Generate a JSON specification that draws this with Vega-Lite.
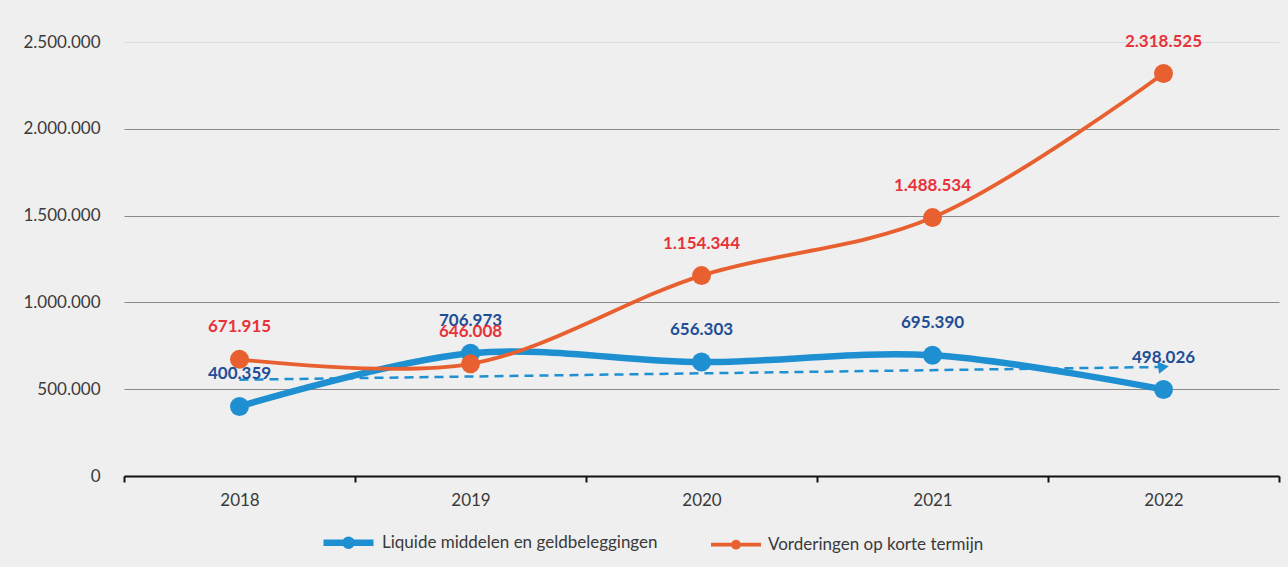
{
  "$schema": "https://vega.github.io/schema/vega-lite/v6.json",
  "width": 1155,
  "height": 434,
  "autosize": {"type": "none"},
  "padding": {"left": 124, "top": 42, "right": 9, "bottom": 91},
  "background": "#efefef",
  "config": {
    "locale": {"number": {"decimal": ",", "thousands": ".", "grouping": [3], "currency": ["€", ""]}},
    "view": {"stroke": null},
    "font": "Lato"
  },
  "datasets": {
    "main": [
      {"year": "2018", "series": "Liquide middelen en geldbeleggingen", "value": 400359},
      {"year": "2019", "series": "Liquide middelen en geldbeleggingen", "value": 706973},
      {"year": "2020", "series": "Liquide middelen en geldbeleggingen", "value": 656303},
      {"year": "2021", "series": "Liquide middelen en geldbeleggingen", "value": 695390},
      {"year": "2022", "series": "Liquide middelen en geldbeleggingen", "value": 498026},
      {"year": "2018", "series": "Vorderingen op korte termijn", "value": 671915},
      {"year": "2019", "series": "Vorderingen op korte termijn", "value": 646008},
      {"year": "2020", "series": "Vorderingen op korte termijn", "value": 1154344},
      {"year": "2021", "series": "Vorderingen op korte termijn", "value": 1488534},
      {"year": "2022", "series": "Vorderingen op korte termijn", "value": 2318525}
    ],
    "trend": [
      {"year": "2018", "trend": 554660},
      {"year": "2022", "trend": 628160}
    ]
  },
  "encoding": {
    "x": {
      "field": "year", "type": "ordinal", "bandPosition": 0.5,
      "scale": {"type": "band", "domain": ["2018", "2019", "2020", "2021", "2022"], "paddingInner": 0, "paddingOuter": 0},
      "axis": {
        "title": null, "labelAngle": 0, "tickBand": "extent",
        "domainColor": "#111111", "domainWidth": 2,
        "tickColor": "#111111", "tickWidth": 2, "tickSize": 6,
        "labelFontSize": 17, "labelColor": "#3a3a3a", "labelPadding": 10, "labelFont": "Lato"
      }
    }
  },
  "layer": [
    {
      "data": {"name": "trend"},
      "mark": {"type": "line", "color": "#1E8FD0", "strokeWidth": 2.5, "strokeDash": [9, 6]},
      "encoding": {
        "y": {"field": "trend", "type": "quantitative"}
      }
    },
    {
      "data": {"name": "trend"},
      "transform": [{"filter": "datum.year === '2022'"}],
      "mark": {"type": "point", "shape": "triangle-right", "filled": true, "color": "#1E8FD0", "size": 150, "angle": -8, "opacity": 1},
      "encoding": {
        "y": {"field": "trend", "type": "quantitative"}
      }
    },
    {
      "data": {"name": "main"},
      "mark": {"type": "line", "interpolate": "catmull-rom"},
      "encoding": {
        "y": {
          "field": "value", "type": "quantitative",
          "scale": {"domain": [0, 2500000], "nice": false},
          "axis": {
            "title": null, "values": [0, 500000, 1000000, 1500000, 2000000, 2500000],
            "format": ",d", "domain": false, "ticks": false, "grid": true,
            "gridColor": {"condition": {"test": "datum.value >= 2500000", "value": "#dcdcdc"}, "value": "#8a8a8a"},
            "gridWidth": 1,
            "labelFontSize": 17, "labelColor": "#3a3a3a", "labelPadding": 24, "labelFont": "Lato"
          }
        },
        "color": {
          "field": "series", "type": "nominal",
          "scale": {"domain": ["Liquide middelen en geldbeleggingen", "Vorderingen op korte termijn"], "range": ["#1E8FD0", "#E8602F"]},
          "legend": {
            "title": null, "orient": "none", "direction": "horizontal",
            "legendX": 196, "legendY": 472,
            "symbolType": "M-1,0L1,0M0.12,0A0.12,0.12,0,1,1,-0.12,0A0.12,0.12,0,1,1,0.12,0Z",
            "symbolSize": 2500, "symbolStrokeWidth": 4,
            "labelFontSize": 17, "labelColor": "#3a3a3a", "labelFont": "Lato", "labelOffset": 5,
            "columnPadding": 45, "labelLimit": 400
          }
        },
        "strokeWidth": {
          "field": "series", "type": "nominal",
          "scale": {"domain": ["Liquide middelen en geldbeleggingen", "Vorderingen op korte termijn"], "range": [6.5, 3.8]},
          "legend": null
        }
      }
    },
    {
      "data": {"name": "main"},
      "mark": {"type": "circle", "size": 360, "opacity": 1},
      "encoding": {
        "y": {"field": "value", "type": "quantitative"},
        "color": {"field": "series", "type": "nominal"}
      }
    },
    {
      "data": {"name": "main"},
      "mark": {"type": "text", "dy": -32, "fontSize": 17, "fontWeight": "bold", "font": "Lato", "baseline": "middle"},
      "encoding": {
        "y": {"field": "value", "type": "quantitative"},
        "text": {"field": "value", "type": "quantitative", "format": ",d"},
        "color": {
          "condition": {"test": "datum.series === 'Liquide middelen en geldbeleggingen'", "value": "#1F4E96"},
          "value": "#E8323A"
        }
      }
    }
  ]
}
